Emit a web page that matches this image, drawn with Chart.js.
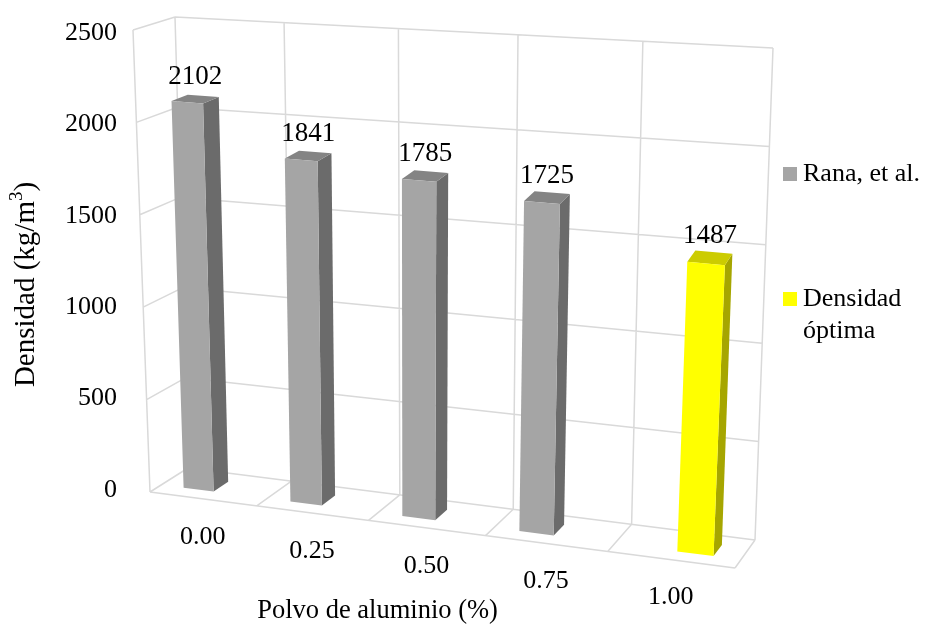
<!DOCTYPE html>
<html>
<head>
<meta charset="utf-8">
<script src="https://cdn.jsdelivr.net/npm/chart.js@4.4.1/dist/chart.umd.min.js"></script>
<style>
    html, body { margin: 0; padding: 0; background: #fff; }
    #wrap { width: 925px; height: 628px; position: relative; }
</style>
</head>
<body>
<div id="wrap"><canvas id="densidadChart"></canvas></div>
<script>
/**
 * Densidad vs polvo de aluminio - 3D column chart drawn with Chart.js
 */

// Chart data
const categories = ['0.00', '0.25', '0.50', '0.75', '1.00'];
const ranaValues = [2102, 1841, 1785, 1725, null];
const optimaValues = [null, null, null, null, 1487];
const yTicks = [0, 500, 1000, 1500, 2000, 2500];
const seriesLabels = ['Rana, et al.', 'Densidad óptima'];
const seriesColors = ['#a5a5a5', '#ffff00'];

const SERIF = "'Liberation Serif', 'Times New Roman', serif";

// Maps (u across the category axis 0..1, t value fraction 0..1, w depth 0 front..1 back)
// onto the canvas, giving the chart the tilted 3D box look
function makeProjector(area) {
    const L = area.left, R = area.right, T = area.top, B = area.bottom;
    const c = {
        flb: [L, B + 2],       flt: [L - 17, T - 3],
        frb: [R, B + 78],      frt: [R + 22, T + 45],
        blb: [L + 38, B - 22], blt: [L + 25, T - 16],
        brb: [R + 20, B + 50], brt: [R + 38, T + 15]
    };
    const lerp = (a, b, k) => [a[0] + (b[0] - a[0]) * k, a[1] + (b[1] - a[1]) * k];
    return (u, t, w) => {
        const uu = u - 0.11 * u * (1 - u);
        const front = lerp(lerp(c.flb, c.frb, uu), lerp(c.flt, c.frt, uu), t);
        const back = lerp(lerp(c.blb, c.brb, uu), lerp(c.blt, c.brt, uu), t);
        return lerp(front, back, w);
    };
}

function shade(hex, k) {
    const n = parseInt(hex.slice(1), 16);
    const r = Math.round(((n >> 16) & 255) * k);
    const g = Math.round(((n >> 8) & 255) * k);
    const b = Math.round((n & 255) * k);
    return `rgb(${r},${g},${b})`;
}

const box3d = {
    id: 'box3d',
    beforeDatasetsDraw(chart) {
        const { ctx, chartArea, scales: { y } } = chart;
        const P = makeProjector(chartArea);
        const span = y.max - y.min;
        const seg = (a, b) => { ctx.moveTo(a[0], a[1]); ctx.lineTo(b[0], b[1]); };

        ctx.save();
        ctx.strokeStyle = '#d9d9d9';
        ctx.lineWidth = 1.5;
        ctx.beginPath();
        yTicks.forEach(v => {
            const t = (v - y.min) / span;
            seg(P(0, t, 0), P(0, t, 1));   // side wall
            seg(P(0, t, 1), P(1, t, 1));   // back wall
        });
        const n = categories.length;
        for (let i = 0; i <= n; i++) {
            const u = i / n;
            seg(P(u, 0, 1), P(u, 1, 1));   // back wall verticals
            seg(P(u, 0, 0), P(u, 0, 1));   // floor dividers
        }
        seg(P(0, 0, 0), P(1, 0, 0));
        seg(P(0, 0, 0), P(0, 1, 0));
        ctx.stroke();

        // category labels along the front edge of the floor
        ctx.fillStyle = '#000';
        ctx.font = `26px ${SERIF}`;
        ctx.textAlign = 'center';
        ctx.textBaseline = 'middle';
        categories.forEach((lab, i) => {
            const p = P((i + 0.5) / n, 0, 0);
            ctx.fillText(lab, p[0], p[1] + 38);
        });
        ctx.restore();
    },
    beforeDatasetDraw() {
        return false; // bars are drawn as boxes below
    },
    afterDatasetsDraw(chart) {
        const { ctx, chartArea } = chart;
        const P = makeProjector(chartArea);
        const W = chartArea.right - chartArea.left;
        const H = chartArea.bottom - chartArea.top;
        const poly = (pts, fill) => {
            ctx.beginPath();
            ctx.moveTo(pts[0][0], pts[0][1]);
            pts.slice(1).forEach(p => ctx.lineTo(p[0], p[1]));
            ctx.closePath();
            ctx.fillStyle = fill;
            ctx.fill();
        };

        ctx.save();
        chart.data.datasets.forEach((ds, di) => {
            const meta = chart.getDatasetMeta(di);
            meta.data.forEach((el, i) => {
                if (ds.data[i] == null) return;
                const { x, y, base, width } = el.getProps(['x', 'y', 'base', 'width'], true);
                const u0 = (x - width / 2 - chartArea.left) / W;
                const u1 = (x + width / 2 - chartArea.left) / W;
                const t0 = (chartArea.bottom - base) / H;
                const t1 = (chartArea.bottom - y) / H;
                const w0 = 0.3, w1 = 0.7;
                const col = ds.backgroundColor;

                poly([P(u1, t0, w0), P(u1, t1, w0), P(u1, t1, w1), P(u1, t0, w1)], shade(col, 0.65));
                poly([P(u0, t1, w0), P(u1, t1, w0), P(u1, t1, w1), P(u0, t1, w1)], shade(col, 0.8));
                poly([P(u0, t0, w0), P(u1, t0, w0), P(u1, t1, w0), P(u0, t1, w0)], col);

                const top = P((u0 + u1) / 2, t1, 0.5);
                ctx.fillStyle = '#000';
                ctx.font = `27px ${SERIF}`;
                ctx.textAlign = 'center';
                ctx.textBaseline = 'middle';
                ctx.fillText(String(ds.data[i]), top[0], top[1] - 22);
            });
        });
        ctx.restore();
    },
    afterDraw(chart) {
        const { ctx, chartArea } = chart;
        const P = makeProjector(chartArea);
        ctx.save();
        ctx.fillStyle = '#000';
        ctx.textBaseline = 'middle';

        // x axis title
        ctx.font = `26.5px ${SERIF}`;
        ctx.textAlign = 'center';
        const xt = P(0.4, 0, 0);
        ctx.fillText('Polvo de aluminio (%)', xt[0] + 9, xt[1] + 91);

        // y axis title with superscript
        const main = 'Densidad (kg/m', sup = '3', close = ')';
        ctx.font = `29px ${SERIF}`;
        const wMain = ctx.measureText(main).width;
        const wClose = ctx.measureText(close).width;
        ctx.font = `19px ${SERIF}`;
        const wSup = ctx.measureText(sup).width;
        const total = wMain + wSup + wClose;
        ctx.translate(26, (chartArea.top + chartArea.bottom) / 2 + 23);
        ctx.rotate(-Math.PI / 2);
        ctx.textAlign = 'left';
        ctx.font = `29px ${SERIF}`;
        ctx.fillText(main, -total / 2, 0);
        ctx.fillText(close, -total / 2 + wMain + wSup, 0);
        ctx.font = `19px ${SERIF}`;
        ctx.fillText(sup, -total / 2 + wMain, -9);
        ctx.setTransform(1, 0, 0, 1, 0, 0);

        // legend
        ctx.font = `26px ${SERIF}`;
        ctx.textAlign = 'left';
        const lx = chartArea.right + 48;
        const rows = [
            { y: 174, lines: [seriesLabels[0]], color: seriesColors[0] },
            { y: 299, lines: seriesLabels[1].split(' '), color: seriesColors[1] }
        ];
        rows.forEach(r => {
            ctx.fillStyle = r.color;
            ctx.fillRect(lx, r.y - 7, 14, 14);
            ctx.fillStyle = '#000';
            r.lines.forEach((ln, k) => ctx.fillText(ln, lx + 20, r.y + k * 32));
        });
        ctx.restore();
    }
};

new Chart(document.getElementById('densidadChart'), {
    type: 'bar',
    data: {
        labels: categories,
        datasets: [
            {
                label: seriesLabels[0],
                data: ranaValues,
                backgroundColor: seriesColors[0]
            },
            {
                label: seriesLabels[1],
                data: optimaValues,
                backgroundColor: seriesColors[1]
            }
        ]
    },
    options: {
        responsive: true,
        maintainAspectRatio: false,
        animation: false,
        categoryPercentage: 2 / 3.5,
        barPercentage: 1,
        layout: {
            padding: { left: 0, right: 190, top: 33, bottom: 138 }
        },
        scales: {
            x: { display: false },
            y: {
                min: 0,
                max: 2500,
                afterBuildTicks: s => { s.ticks = yTicks.map(v => ({ value: v })); },
                afterFit: s => {
                    s.width = 150;
                    s.paddingTop = 0;
                    s.paddingBottom = 0;
                },
                grid: { display: false, drawTicks: false },
                border: { display: false },
                ticks: {
                    padding: 33,
                    color: '#000',
                    font: { family: SERIF, size: 26 },
                    callback: v => String(v)
                }
            }
        },
        plugins: {
            legend: { display: false },
            tooltip: { enabled: false }
        }
    },
    plugins: [box3d]
});
</script>
</body>
</html>
